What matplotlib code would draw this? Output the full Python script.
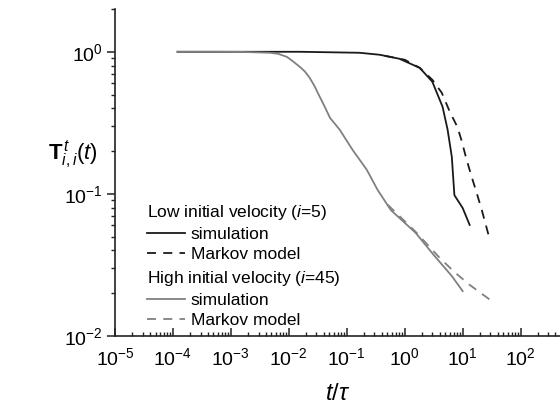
import numpy as np
import matplotlib
matplotlib.use("Agg")
import matplotlib.pyplot as plt
from matplotlib.lines import Line2D

plt.rcParams['font.family'] = ['Liberation Sans', 'DejaVu Sans']
plt.rcParams['mathtext.fontset'] = 'custom'
plt.rcParams['mathtext.rm'] = 'Liberation Sans'
plt.rcParams['mathtext.it'] = 'Liberation Sans:italic'
plt.rcParams['mathtext.bf'] = 'Liberation Sans:bold'

# Low initial velocity (i=5)
low_sim_t = [1.2e-4, 6.4e-4, 0.0155, 0.166, 0.37, 0.81, 1.82, 3.0, 4.5, 5.5, 6.5, 7.2, 10.0, 13.2]
low_sim_T = [1.0, 1.0, 1.0, 0.984, 0.953, 0.893, 0.77, 0.615, 0.41, 0.283, 0.182, 0.098, 0.0796, 0.0605]
low_mk_t = [0.45, 1.0, 1.82, 3.0, 4.37, 6.0, 8.1, 9.5, 11.7, 14.3, 17.4, 21.4, 29.5]
low_mk_T = [0.937, 0.879, 0.77, 0.635, 0.514, 0.378, 0.296, 0.24, 0.174, 0.132, 0.102, 0.077, 0.0474]

# High initial velocity (i=45)
high_sim_t = [1.2e-4, 6.4e-4, 0.0015, 0.0030, 0.0047, 0.00655, 0.0093, 0.01186, 0.0155, 0.0189,
              0.0229, 0.028, 0.0316, 0.0417, 0.0513, 0.0759,
              0.126, 0.221, 0.339, 0.575, 1.55, 3.16, 6.46, 10.0]
high_sim_T = [1.0, 1.0, 0.998, 0.99, 0.984, 0.968, 0.92, 0.855, 0.783, 0.727,
              0.656, 0.57, 0.514, 0.41, 0.343, 0.282,
              0.204, 0.148, 0.107, 0.077, 0.0531, 0.0372, 0.0265, 0.0207]
high_mk_t = [0.51, 1.55, 4.0, 7.2, 13.2, 33.1]
high_mk_T = [0.0838, 0.054, 0.0355, 0.0282, 0.0229, 0.0174]

xticks = [1e-5, 1e-4, 1e-3, 1e-2, 1e-1, 1e0, 1e1, 1e2]
yticks = [1e-2, 1e-1, 1e0]

fig = plt.figure(figsize=(5.6, 4.05), dpi=100)
ax = fig.add_axes([115/560, 69/405, 445/560, 327/405])

black = '#1a1a1a'
gray = '#808080'
dash = (0, (5, 4))

ax.plot(low_sim_t, low_sim_T, color=black, lw=1.3)
ax.plot(low_mk_t, low_mk_T, color=black, lw=1.3, linestyle=dash)
ax.plot(high_sim_t, high_sim_T, color=gray, lw=1.3)
ax.plot(high_mk_t, high_mk_T, color=gray, lw=1.3, linestyle=dash)

ax.set_xscale('log')
ax.set_yscale('log')
ax.set_xlim(1e-5, 10**2.68)
ax.set_ylim(1e-2, 2.0)
ax.set_xticks(xticks)
ax.set_yticks(yticks)
ax.xaxis.set_minor_locator(matplotlib.ticker.LogLocator(base=10, subs=np.arange(2, 10), numticks=20))
ax.yaxis.set_minor_locator(matplotlib.ticker.LogLocator(base=10, subs=np.arange(2, 10), numticks=20))
ax.xaxis.set_minor_formatter(matplotlib.ticker.NullFormatter())
ax.yaxis.set_minor_formatter(matplotlib.ticker.NullFormatter())

for s in ['top', 'right']:
    ax.spines[s].set_visible(False)
for s in ['left', 'bottom']:
    ax.spines[s].set_linewidth(1.2)
    ax.spines[s].set_color('#222222')

ax.tick_params(axis='x', which='major', direction='in', length=6, width=1.1, labelsize=14, pad=8, colors='#222222')
ax.tick_params(axis='x', which='minor', direction='in', length=3, width=1.0, colors='#222222')
ax.tick_params(axis='y', which='major', direction='out', length=6, width=1.1, labelsize=14, pad=3, colors='#222222')
ax.tick_params(axis='y', which='minor', direction='out', length=3, width=1.0, colors='#222222')
ax.tick_params(labelcolor='black')

ax.set_xlabel(r'$t/\tau$', fontsize=17, labelpad=10)
ax.set_ylabel(r'$\mathbf{T}^{\,t}_{i,i}(t)$', fontsize=16, rotation=0)
ax.yaxis.set_label_coords(-0.095, 0.555)
ax.yaxis.label.set_horizontalalignment('center')
ax.yaxis.label.set_verticalalignment('center')

fs = 12.5
common = dict(loc='upper left', frameon=False, fontsize=fs, title_fontsize=fs, alignment='left',
              handlelength=2.2, handletextpad=0.3, labelspacing=0.29, borderpad=0.29, borderaxespad=0)
h1 = [Line2D([], [], color=black, lw=1.3), Line2D([], [], color=black, lw=1.3, linestyle=dash)]
leg1 = ax.legend(h1, ['simulation', 'Markov model'], title=r'Low initial velocity ($i$=5)',
                 bbox_to_anchor=(0.061, 0.422), **common)
ax.add_artist(leg1)
h2 = [Line2D([], [], color=gray, lw=1.3), Line2D([], [], color=gray, lw=1.3, linestyle=dash)]
leg2 = ax.legend(h2, ['simulation', 'Markov model'], title=r'High initial velocity ($i$=45)',
                 bbox_to_anchor=(0.061, 0.220), **common)

fig.savefig('out.png', dpi=100)
